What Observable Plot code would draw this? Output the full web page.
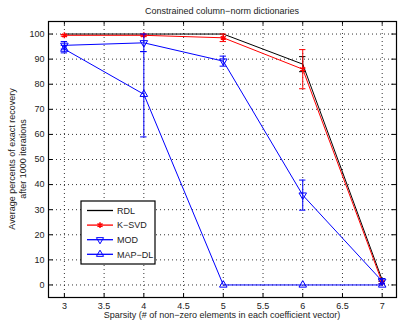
<!DOCTYPE html>
<html><head><meta charset="utf-8">
<script src="https://cdn.jsdelivr.net/npm/d3@7"></script>
<script src="https://cdn.jsdelivr.net/npm/@observablehq/plot@0.6"></script>
<style>body{margin:0;background:#fff;} svg{font-family:"Liberation Sans",Arial,sans-serif;}</style>
</head><body><div id="chart"></div>
<script>
const title = "Constrained column\u2212norm dictionaries";
const xLabel = "Sparsity (# of non\u2212zero elements in each coefficient vector)";
const yLabel1 = "Average percents of exact recovery";
const yLabel2 = "after 1000 iterations";
const sparsity = [3, 4, 5, 6, 7];
const xTicks = [3, 3.5, 4, 4.5, 5, 5.5, 6, 6.5, 7];
const yTicks = [0, 10, 20, 30, 40, 50, 60, 70, 80, 90, 100];
const seriesNames = ["RDL", "K\u2212SVD", "MOD", "MAP\u2212DL"];
const rdl = [100, 100, 100, 88, 2];
const rdlErr = [0, 0, 0, 3, 0.5];
const ksvd = [99.5, 99.5, 98.5, 86, 1];
const ksvdErr = [0.3, 0.3, 1.5, 7.8, 0.5];
const mod = [95.5, 96.5, 89.2, 35.8, 1.5];
const modErr = [1.5, 3.5, 2, 6, 1];
const mapdl = [94, 76, 0, 0, 0];
const mapdlErr = [1.5, 17, 0, 0, 0];

const colors = {"RDL": "#000000", "K\u2212SVD": "#ff0000", "MOD": "#0000ff", "MAP\u2212DL": "#0000ff"};
const vals = [rdl, ksvd, mod, mapdl];
const errs = [rdlErr, ksvdErr, modErr, mapdlErr];
const rows = [];
seriesNames.forEach((s, i) => sparsity.forEach((x, j) => rows.push({series: s, x, y: vals[i][j], e: errs[i][j]})));
const errRows = rows.filter(d => d.e > 0);
const capW = 0.04;

const marks = [
  Plot.ruleX(xTicks, {x: d => d, stroke: "#000", strokeOpacity: 0.8, strokeDasharray: "1,3"}),
  Plot.ruleY(yTicks, {y: d => d, stroke: "#000", strokeOpacity: 0.8, strokeDasharray: "1,3"}),
  Plot.ruleX(xTicks, {x: d => d, y1: -5, y2: -3.5, stroke: "#000"}),
  Plot.ruleX(xTicks, {x: d => d, y1: 105, y2: 103.5, stroke: "#000"}),
  Plot.ruleY(yTicks, {y: d => d, x1: 2.8, x2: 2.86, stroke: "#000"}),
  Plot.ruleY(yTicks, {y: d => d, x1: 7.12, x2: 7.18, stroke: "#000"}),
  Plot.text(xTicks, {x: d => d, y: -5, text: d => String(d), dy: 9, fontSize: 9, fill: "#222"}),
  Plot.text(yTicks, {x: 2.8, y: d => d, text: d => String(d), dx: -4, textAnchor: "end", fontSize: 9, fill: "#222"}),
];
seriesNames.forEach(s => {
  const d = rows.filter(r => r.series === s);
  const de = errRows.filter(r => r.series === s);
  const c = colors[s];
  marks.push(Plot.line(d, {x: "x", y: "y", stroke: c, strokeWidth: 1}));
  marks.push(Plot.ruleX(de, {x: "x", y1: r => r.y - r.e, y2: r => r.y + r.e, stroke: c, strokeWidth: 1}));
  marks.push(Plot.ruleY(de, {y: r => r.y - r.e, x1: r => r.x - capW, x2: r => r.x + capW, stroke: c, strokeWidth: 1}));
  marks.push(Plot.ruleY(de, {y: r => r.y + r.e, x1: r => r.x - capW, x2: r => r.x + capW, stroke: c, strokeWidth: 1}));
  if (s === "K\u2212SVD") marks.push(Plot.dot(d, {x: "x", y: "y", symbol: "asterisk", r: 2.8, stroke: c, strokeWidth: 1.5}));
  if (s === "MOD") marks.push(Plot.dot(d, {x: "x", y: "y", symbol: "triangle", rotate: 180, r: 2.8, stroke: c, fill: "none", strokeWidth: 1}));
  if (s === "MAP\u2212DL") marks.push(Plot.dot(d, {x: "x", y: "y", symbol: "triangle", r: 2.8, stroke: c, fill: "none", strokeWidth: 1}));
});
marks.push(Plot.frame({stroke: "#000", strokeWidth: 1.2}));

const chart = Plot.plot({
  width: 398, height: 320,
  marginLeft: 48, marginRight: 2, marginTop: 21, marginBottom: 23,
  x: {domain: [2.8, 7.18], axis: null},
  y: {domain: [-5, 105], axis: null},
  style: {fontFamily: "'Liberation Sans', Arial, sans-serif", fontSize: "9px", background: "#fff"},
  marks
});
document.getElementById("chart").appendChild(chart);

const svg = d3.select(chart);
svg.append("text").attr("x", 222).attr("y", 14).attr("text-anchor", "middle")
  .attr("font-size", 9).attr("fill", "#222").text(title);
svg.append("text").attr("x", 222).attr("y", 318).attr("text-anchor", "middle")
  .attr("font-size", 9).attr("fill", "#222").text(xLabel);
svg.append("text").attr("transform", "translate(15,159) rotate(-90)").attr("text-anchor", "middle")
  .attr("font-size", 9).attr("fill", "#222").text(yLabel1);
svg.append("text").attr("transform", "translate(26,159) rotate(-90)").attr("text-anchor", "middle")
  .attr("font-size", 9).attr("fill", "#222").text(yLabel2);

// legend
const lg = svg.append("g");
lg.append("rect").attr("x", 81).attr("y", 201).attr("width", 74).attr("height", 63)
  .attr("fill", "#fff").attr("stroke", "#000").attr("stroke-width", 1.2);
const sym = {"K\u2212SVD": ["asterisk", 0], "MOD": ["triangle", 180], "MAP\u2212DL": ["triangle", 0]};
seriesNames.forEach((s, i) => {
  const yy = 210.5 + i * 14.6;
  lg.append("line").attr("x1", 87).attr("x2", 113).attr("y1", yy).attr("y2", yy)
    .attr("stroke", colors[s]).attr("stroke-width", 1.3);
  if (sym[s]) {
    const [name, rot] = sym[s];
    const t = name === "asterisk" ? d3.symbolAsterisk : d3.symbolTriangle;
    lg.append("path").attr("d", d3.symbol(t, name === "asterisk" ? 24 : 22)())
      .attr("transform", `translate(100,${yy}) rotate(${rot})`)
      .attr("fill", "none").attr("stroke", colors[s]).attr("stroke-width", name === "asterisk" ? 1.5 : 1);
  }
  lg.append("text").attr("x", 117).attr("y", yy + 3.2).attr("text-anchor", "start")
    .attr("font-size", 9).attr("fill", "#222").text(s);
});
</script></body></html>
